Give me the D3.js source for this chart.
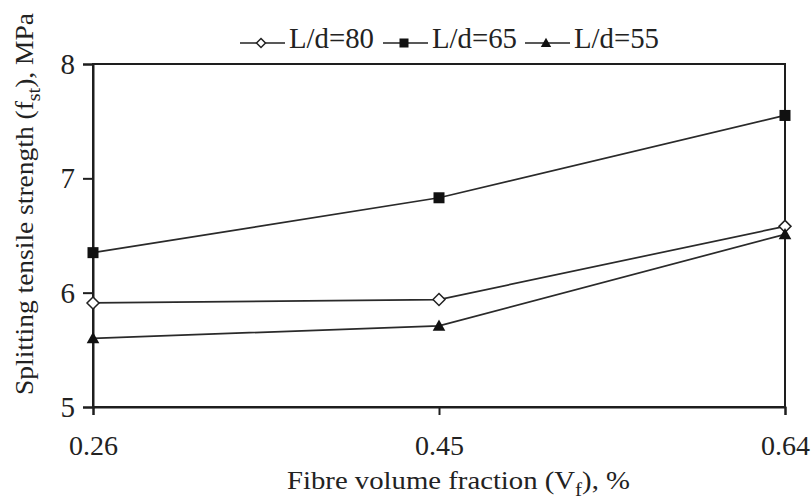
<!DOCTYPE html>
<html>
<head>
<meta charset="utf-8">
<script src="https://cdn.jsdelivr.net/npm/d3@7"></script>
<style>
  html, body { margin: 0; padding: 0; background: #fff; }
  svg { display: block; }
  svg text { font-family: "Liberation Serif", "Times New Roman", Times, serif !important; fill: #222; }
</style>
</head>
<body>
<svg id="chart" width="811" height="500"></svg>
<script>
// Fibre volume fraction categories (%)
const fractions = ["0.26", "0.45", "0.64"];
// Splitting tensile strength (MPa) per aspect ratio
const ld80 = [5.91, 5.94, 6.58];
const ld65 = [6.35, 6.83, 7.55];
const ld55 = [5.60, 5.71, 6.51];
const yTicks = [5, 6, 7, 8];

const series = [
  { name: "L/d=80", values: ld80, symbol: "diamond" },
  { name: "L/d=65", values: ld65, symbol: "square" },
  { name: "L/d=55", values: ld55, symbol: "triangle" }
];

const svg = d3.select("#chart");
const m = { left: 93, right: 785, top: 64, bottom: 407 };
const ink = "#1e1e1e";

const x = d3.scalePoint().domain(fractions).range([m.left, m.right]);
const y = d3.scaleLinear().domain([5, 8]).range([m.bottom, m.top]);

// frame
svg.append("rect")
  .attr("x", m.left).attr("y", m.top)
  .attr("width", m.right - m.left).attr("height", m.bottom - m.top)
  .attr("fill", "none").attr("stroke", ink).attr("stroke-width", 2);

// y axis
const yAxis = svg.append("g")
  .attr("transform", `translate(${m.left},0)`)
  .call(d3.axisLeft(y).tickValues(yTicks).tickFormat(d3.format("d")).tickSize(10).tickPadding(8));
yAxis.select(".domain").attr("stroke", ink).attr("stroke-width", 2);
yAxis.selectAll(".tick line").attr("stroke", ink).attr("stroke-width", 2);
yAxis.selectAll(".tick text")
  .style("font-size", "29px").attr("fill", "#222").attr("dy", "0.33em");

// x axis
const xAxis = svg.append("g")
  .attr("transform", `translate(0,${m.bottom})`)
  .call(d3.axisBottom(x).tickSize(8));
xAxis.select(".domain").attr("stroke", ink).attr("stroke-width", 2);
xAxis.selectAll(".tick line").attr("stroke", ink).attr("stroke-width", 2);
xAxis.selectAll(".tick text")
  .style("font-size", "28px").attr("fill", "#222")
  .attr("y", 48).attr("dy", 0);

// series lines
const line = d3.line().x((d, i) => x(fractions[i])).y(d => y(d));
series.forEach(s => {
  svg.append("path")
    .datum(s.values)
    .attr("d", line)
    .attr("fill", "none")
    .attr("stroke", "#2a2a2a")
    .attr("stroke-width", 1.7);
});

function drawSymbol(g, type, cx, cy, r) {
  if (type === "square") {
    g.append("rect").attr("x", cx - r).attr("y", cy - r)
      .attr("width", 2 * r).attr("height", 2 * r).attr("fill", "#111");
  } else if (type === "diamond") {
    g.append("path")
      .attr("d", `M${cx},${cy - r}L${cx + r},${cy}L${cx},${cy + r}L${cx - r},${cy}Z`)
      .attr("fill", "#fff").attr("stroke", "#222").attr("stroke-width", 1.5);
  } else {
    g.append("path")
      .attr("d", `M${cx},${cy - r * 1.15}L${cx + r * 1.15},${cy + r * 0.9}L${cx - r * 1.15},${cy + r * 0.9}Z`)
      .attr("fill", "#111");
  }
}

// markers
series.forEach(s => {
  const g = svg.append("g");
  s.values.forEach((v, i) => drawSymbol(g, s.symbol, x(fractions[i]), y(v), s.symbol === "diamond" ? 6 : 5.5));
});

// legend: short line with symbol, then condensed label
const legendX = [240, 383, 525];
series.forEach((s, i) => {
  const g = svg.append("g");
  const lx = legendX[i], ly = 43;
  g.append("line").attr("x1", lx).attr("x2", lx + 45).attr("y1", ly).attr("y2", ly)
    .attr("stroke", "#222").attr("stroke-width", 1.7);
  drawSymbol(g, s.symbol, lx + 21, ly, 4.5);
  g.append("text").attr("x", lx + 49).attr("y", ly + 5)
    .style("font-size", "30px").attr("textLength", 85).attr("lengthAdjust", "spacingAndGlyphs")
    .text(s.name);
});

// axis titles
const xt = svg.append("text")
  .attr("x", 287).attr("y", 489)
  .attr("textLength", 343).attr("lengthAdjust", "spacingAndGlyphs")
  .style("font-size", "26px");
xt.append("tspan").text("Fibre volume fraction (V");
xt.append("tspan").attr("dy", 7).style("font-size", "19px").text("f");
xt.append("tspan").attr("dy", -7).text("), %");

const yt = svg.append("text")
  .attr("transform", `translate(33,395) rotate(-90)`)
  .attr("textLength", 382).attr("lengthAdjust", "spacingAndGlyphs")
  .style("font-size", "26px");
yt.append("tspan").text("Splitting tensile strength (f");
yt.append("tspan").attr("dy", 7).style("font-size", "19px").text("st");
yt.append("tspan").attr("dy", -7).text("), MPa");
</script>
</body>
</html>
